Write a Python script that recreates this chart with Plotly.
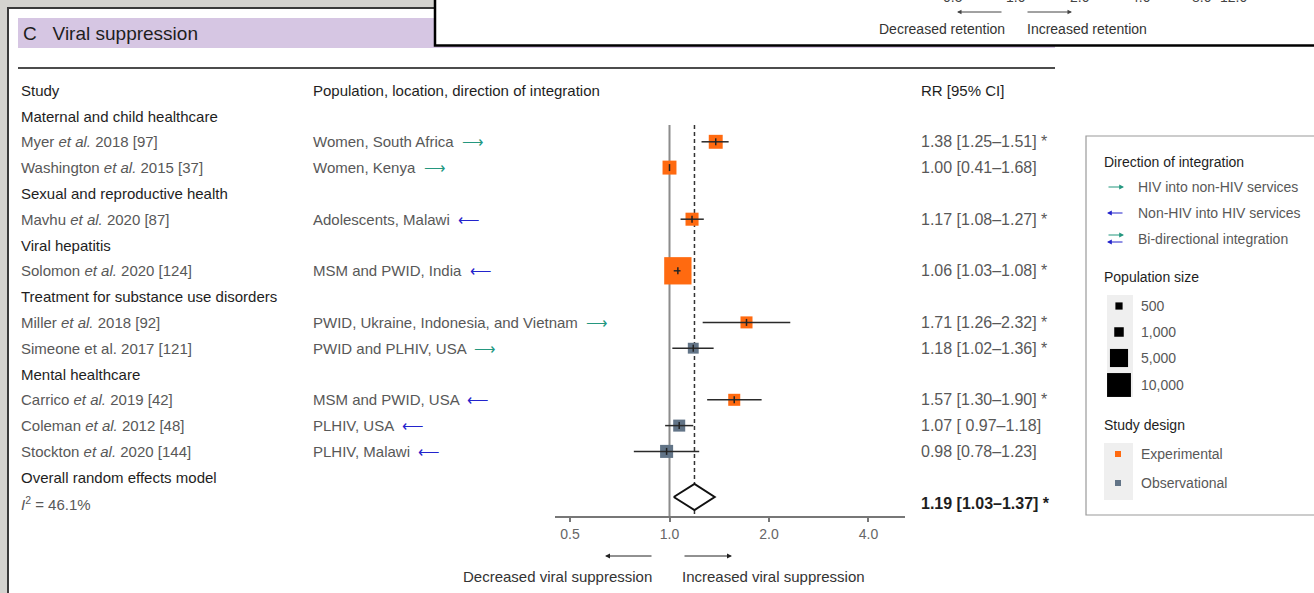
import math
import plotly.graph_objects as go

W, H = 1314, 593

# ---------------- data ----------------
groups = ["Maternal and child healthcare", "Sexual and reproductive health", "Viral hepatitis",
          "Treatment for substance use disorders", "Mental healthcare"]
study_author = ["Myer", "Washington", "Mavhu", "Solomon", "Miller", "Simeone", "Carrico", "Coleman", "Stockton"]
study_italic = [True, True, True, True, True, False, True, True, True]
study_year = [2018, 2015, 2020, 2020, 2018, 2017, 2019, 2012, 2020]
study_ref = [97, 37, 87, 124, 92, 121, 42, 48, 144]
study_group = [0, 0, 1, 2, 3, 3, 4, 4, 4]
population = ["Women, South Africa", "Women, Kenya", "Adolescents, Malawi", "MSM and PWID, India",
              "PWID, Ukraine, Indonesia, and Vietnam", "PWID and PLHIV, USA", "MSM and PWID, USA",
              "PLHIV, USA", "PLHIV, Malawi"]
direction = ["HIV into non-HIV", "HIV into non-HIV", "Non-HIV into HIV", "Non-HIV into HIV",
             "HIV into non-HIV", "HIV into non-HIV", "Non-HIV into HIV", "Non-HIV into HIV", "Non-HIV into HIV"]
rr = [1.38, 1.00, 1.17, 1.06, 1.71, 1.18, 1.57, 1.07, 0.98]
ci_lo = [1.25, 0.41, 1.08, 1.03, 1.26, 1.02, 1.30, 0.97, 0.78]
ci_hi = [1.51, 1.68, 1.27, 1.08, 2.32, 1.36, 1.90, 1.18, 1.23]
rr_label = ["1.38 [1.25–1.51] *", "1.00 [0.41–1.68]", "1.17 [1.08–1.27] *", "1.06 [1.03–1.08] *",
            "1.71 [1.26–2.32] *", "1.18 [1.02–1.36] *", "1.57 [1.30–1.90] *", "1.07 [ 0.97–1.18]",
            "0.98 [0.78–1.23]"]
design = ["Experimental", "Experimental", "Experimental", "Experimental", "Experimental",
          "Observational", "Experimental", "Observational", "Observational"]
pop_size = [2600, 2600, 2200, 14000, 1800, 1400, 1800, 1800, 2200]

overall_rr, overall_lo, overall_hi = 1.19, 1.03, 1.37
overall_label = "1.19 [1.03–1.37] *"
i2_value = 46.1

x_ticks = [0.5, 1.0, 2.0, 4.0]
x_ticktext = ["0.5", "1.0", "2.0", "4.0"]
legend_sizes = [500, 1000, 5000, 10000]
legend_size_text = ["500", "1,000", "5,000", "10,000"]
retention_ticks = ["0.5", "1.0", "2.0", "4.0", "8.0", "12.0"]

# ---------------- style ----------------
FONT = "Liberation Sans, Arial, Helvetica, sans-serif"
DARK = "#1e1e1e"
GREY = "#585858"
ORANGE = "#ff6a10"
SLATE = "#627487"
GREEN = "#24977f"
BLUE = "#2323cc"
design_color = {"Experimental": ORANGE, "Observational": SLATE}
dir_color = {"HIV into non-HIV": GREEN, "Non-HIV into HIV": BLUE}
dir_glyph = {"HIV into non-HIV": "⟶", "Non-HIV into HIV": "⟵"}

X_MIN, X_MAX = 0.4503, 5.16
AX_Y = 516          # pixel row of the x axis
ROW0, PITCH = 116, 25.8


def px(x):
    return x / W


def py(y):
    return 1 - y / H


def size_px(n):
    return 0.6 * n ** 0.4


annotations = []
shapes = []


def text(x, y, s, size=15, color=GREY, xanchor="left", yanchor="middle"):
    annotations.append(dict(x=px(x), y=py(y), xref="paper", yref="paper",
                            text=s, showarrow=False, xanchor=xanchor, yanchor=yanchor,
                            font=dict(family=FONT, size=size, color=color)))


def arrow(x_tail, x_head, y, color, width=1.2, size=1.0):
    annotations.append(dict(x=px(x_head), y=py(y), xref="paper", yref="paper", text="",
                            showarrow=True, ax=x_tail - x_head, ay=0, arrowhead=2,
                            arrowsize=size, arrowwidth=width, arrowcolor=color, standoff=0,
                            startstandoff=0))


def rect(x0, y0, x1, y1, fill, line_color=None, line_width=0):
    shapes.append(dict(type="rect", xref="paper", yref="paper", x0=px(x0), x1=px(x1),
                       y0=py(y1), y1=py(y0), fillcolor=fill, layer="below",
                       line=dict(color=line_color or fill, width=line_width)))


def hline(x0, x1, y, color, width):
    shapes.append(dict(type="line", xref="paper", yref="paper", x0=px(x0), x1=px(x1),
                       y0=py(y), y1=py(y), layer="below", line=dict(color=color, width=width)))


# ---------------- frame ----------------
rect(8, 8, 1340, 620, "white", "#3a3a3a", 2)
rect(18, 18, 1055, 48, "#d6c6e3")
hline(18, 1055, 68, "#111111", 1.5)
# overlapping box of the previous panel
rect(435, -20, 1340, 45.5, "white", "#000000", 2.5)
for t, xx in zip(retention_ticks, [953, 1016, 1080, 1141, 1202, 1233]):
    text(xx, 7, t, size=14, color="#444", xanchor="center", yanchor="bottom")
arrow(1003, 957, 12, "#444", 1, 0.9)
arrow(1026, 1072, 12, "#444", 1, 0.9)
text(942, 29, "Decreased retention", size=14, color="#333", xanchor="center")
text(1087, 29, "Increased retention", size=14, color="#333", xanchor="center")

text(21, 34, "C   Viral suppression", size=19, color=DARK)

# column headers
text(19, 91, "Study", color=DARK)
text(311, 91, "Population, location, direction of integration", color=DARK)
text(919, 91, "RR [95% CI]", color=DARK)

# ---------------- rows ----------------
row_y = []
r = 0
last_group = None
for i in range(len(study_author)):
    g = study_group[i]
    if g != last_group:
        text(19, ROW0 + r * PITCH, groups[g], color=DARK)
        r += 1
        last_group = g
    y = ROW0 + r * PITCH
    row_y.append(y)
    etal = "<i>et al.</i>" if study_italic[i] else "et al."
    text(19, y, f"{study_author[i]} {etal} {study_year[i]} [{study_ref[i]}]")
    d = direction[i]
    text(311, y, f"{population[i]}  <span style='color:{dir_color[d]}'>{dir_glyph[d]}</span>")
    text(919, y, rr_label[i], size=16)
    r += 1

y_overall = ROW0 + r * PITCH
y_i2 = ROW0 + (r + 1) * PITCH
text(19, y_overall, "Overall random effects model", color=DARK)
text(19, y_i2, f"<i>I</i><sup>2</sup> = {i2_value}%")
text(919, y_i2, f"<b>{overall_label}</b>", size=16, color=DARK)

# ---------------- forest traces ----------------
fig = go.Figure()
fig.add_trace(go.Scatter(x=[1, 1], y=[125, AX_Y], mode="lines",
                         line=dict(color="#8c8c8c", width=2), hoverinfo="skip"))
fig.add_trace(go.Scatter(x=[overall_rr, overall_rr], y=[125, AX_Y], mode="lines",
                         line=dict(color="#333333", width=1.5, dash="4px,3px"), hoverinfo="skip"))
fig.add_trace(go.Scatter(x=rr, y=row_y, mode="markers",
                         marker=dict(symbol="square", size=[size_px(n) for n in pop_size], opacity=1,
                                     color=[design_color[d] for d in design], line=dict(width=0))))
wx, wy = [], []
for i in range(len(rr)):
    if ci_lo[i] >= X_MIN and ci_hi[i] <= X_MAX:
        wx += [ci_lo[i], ci_hi[i], None]
        wy += [row_y[i], row_y[i], None]
fig.add_trace(go.Scatter(x=wx, y=wy, mode="lines", line=dict(color="#2a2a2a", width=1.5)))
fig.add_trace(go.Scatter(x=rr, y=row_y, mode="markers",
                         marker=dict(symbol="line-ns", size=5, line=dict(color="#222", width=1.5))))
yc = y_i2 - 6
fig.add_trace(go.Scatter(x=[overall_lo, overall_rr, overall_hi, overall_rr, overall_lo],
                         y=[yc, yc - 13, yc, yc + 13, yc], mode="lines", fill="toself",
                         fillcolor="white", line=dict(color="#111", width=2)))

# below-axis direction labels
arrow(653, 605, 556, "#222", 1, 1)
arrow(683, 732, 556, "#222", 1, 1)
text(654, 576, "Decreased viral suppression", color="#333", xanchor="right")
text(680, 576, "Increased viral suppression", color="#333", xanchor="left")

# ---------------- legend ----------------
rect(1086, 136, 1340, 515, "white", "#9a9a9a", 1.2)
text(1102, 162, "Direction of integration", size=14, color=DARK)
arrow(1107, 1124, 187, GREEN, 1.2, 0.8)
text(1136, 187, "HIV into non-HIV services", size=14)
arrow(1124, 1107, 213, BLUE, 1.2, 0.8)
text(1136, 213, "Non-HIV into HIV services", size=14)
arrow(1107, 1124, 235, GREEN, 1.2, 0.8)
arrow(1124, 1107, 242, BLUE, 1.2, 0.8)
text(1136, 239, "Bi-directional integration", size=14)
text(1102, 277, "Population size", size=14, color=DARK)
rect(1107, 295, 1133, 397, "#efefef")
for n, lab, yy in zip(legend_sizes, legend_size_text, [306, 332, 358, 385]):
    s = size_px(n)
    rect(1119 - s / 2, yy - s / 2, 1119 + s / 2, yy + s / 2, "black")
    text(1139, yy, lab, size=14)
text(1102, 425, "Study design", size=14, color=DARK)
rect(1104, 443, 1133, 500, "#efefef")
for lab, yy in zip(["Experimental", "Observational"], [454, 483]):
    rect(1115, yy - 3, 1121, yy + 3, design_color[lab])
    text(1139, yy, lab, size=14)

fig.update_layout(
    width=W, height=H, autosize=False,
    margin=dict(l=0, r=0, t=0, b=0, pad=0),
    paper_bgcolor="#d4d3cf", plot_bgcolor="rgba(0,0,0,0)",
    showlegend=False,
    shapes=shapes, annotations=annotations,
    xaxis=dict(domain=[555 / W, 905 / W], type="log",
               range=[math.log10(X_MIN), math.log10(X_MAX)],
               tickvals=x_ticks, ticktext=x_ticktext, ticks="outside", ticklen=4,
               tickwidth=1.5, tickcolor="#777", showline=True, linecolor="#777", linewidth=2,
               showgrid=False, zeroline=False, ticklabelstandoff=0,
               tickfont=dict(family=FONT, size=14, color="#666")),
    yaxis=dict(domain=[1 - AX_Y / H, 1], range=[AX_Y, 0], visible=False, showgrid=False,
               zeroline=False),
)

fig.write_html("out.html", config={"displayModeBar": False},
               post_script="document.body.style.margin='0';document.body.style.overflow='hidden';")
